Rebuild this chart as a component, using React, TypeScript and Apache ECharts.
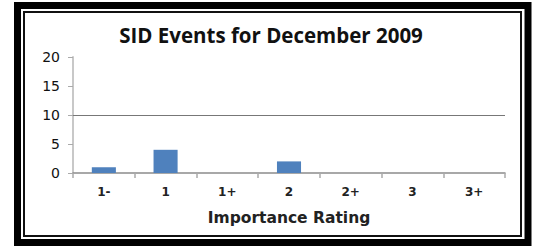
import React, { useEffect, useRef } from "react";
import * as echarts from "echarts";

const categories = ["1-", "1", "1+", "2", "2+", "3", "3+"];
const eventCounts = [1, 4, 0, 2, 0, 0, 0];
const yTicks = [0, 5, 10, 15, 20];
const titleText = "SID Events for December 2009";
const xAxisTitle = "Importance Rating";

export default function App() {
  const ref = useRef<HTMLDivElement>(null);
  useEffect(() => {
    document.body.style.margin = "0";
    const chart = echarts.init(ref.current!, null, { renderer: "svg" });
    chart.setOption({
      animation: false,
      backgroundColor: "#ffffff",
      title: {
        text: titleText,
        left: 266,
        top: 19,
        textAlign: "center",
        textStyle: {
          fontFamily: "Open Sans",
          fontWeight: "bold",
          fontSize: 20.5,
          color: "#111",
        },
      },
      grid: { left: 73, right: 30, top: 57, bottom: 73, containLabel: false },
      xAxis: {
        type: "category",
        data: categories,
        name: xAxisTitle,
        nameLocation: "middle",
        nameGap: 37,
        nameTextStyle: {
          fontFamily: "DejaVu Sans",
          fontWeight: "bold",
          fontSize: 15.5,
          color: "#222",
        },
        axisLine: { lineStyle: { color: "#8c8c8c", width: 1.5 } },
        axisTick: { show: true, length: 5, lineStyle: { color: "#aaa", width: 1.5 } },
        axisLabel: {
          fontFamily: "DejaVu Sans",
          fontWeight: "bold",
          fontSize: 12,
          color: "#222",
          margin: 13,
        },
      },
      yAxis: {
        type: "value",
        min: 0,
        max: yTicks[yTicks.length - 1],
        interval: 5,
        axisLine: { show: true, lineStyle: { color: "#c8c8c8", width: 2 } },
        axisTick: { show: true, length: 5, lineStyle: { color: "#aaa" } },
        splitLine: { show: false },
        axisLabel: {
          fontFamily: "DejaVu Sans",
          fontSize: 14,
          color: "#111",
          margin: 13,
        },
      },
      series: [
        {
          type: "bar",
          data: eventCounts,
          barWidth: "39%",
          itemStyle: { color: "#4f81bd" },
          markLine: {
            silent: true,
            symbol: "none",
            label: { show: false },
            lineStyle: { color: "#777", type: "solid", width: 1.2 },
            data: [{ yAxis: 10 }],
          },
        },
      ],
      graphic: [
        {
          type: "rect",
          shape: { x: 17.5, y: 5.5, width: 510.5, height: 237 },
          style: { fill: "none", stroke: "#000", lineWidth: 7 },
          silent: true,
        },
        {
          type: "rect",
          shape: { x: 24, y: 12, width: 497, height: 224 },
          style: { fill: "none", stroke: "#111", lineWidth: 2 },
          silent: true,
        },
      ],
    });
    return () => chart.dispose();
  }, []);
  return (
    <div
      ref={ref}
      style={{ position: "absolute", left: 0, top: 0, width: 535, height: 246 }}
    />
  );
}
